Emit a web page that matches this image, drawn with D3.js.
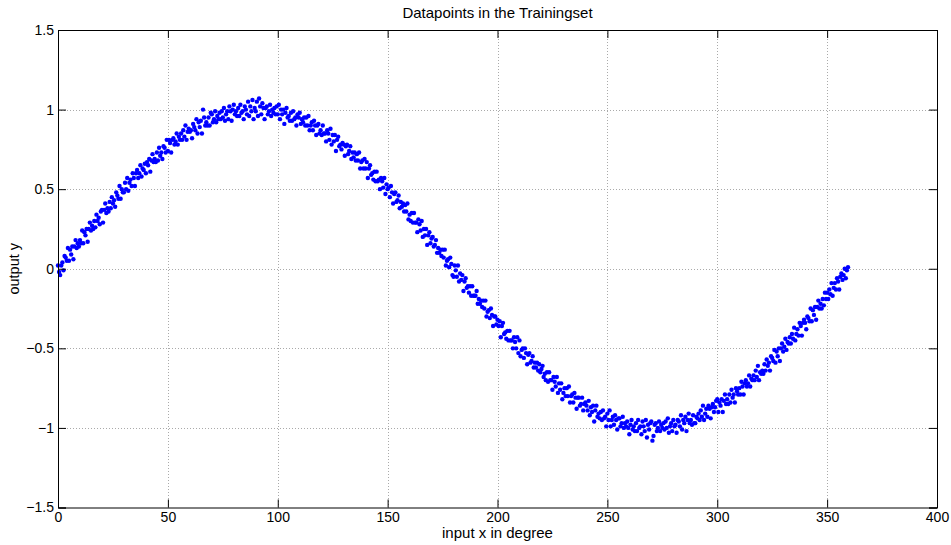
<!DOCTYPE html>
<html>
<head>
<meta charset="utf-8">
<script src="https://cdn.jsdelivr.net/npm/d3@7"></script>
<style>
  body { margin: 0; background: #fff; }
  text { font-family: "Liberation Sans", Arial, sans-serif; fill: #000; }
</style>
</head>
<body>
<div id="chart"></div>
<script>
// y values, one every half degree from 0 to 359.5
var yValues = [
  .02, -.02, -.04, .02, .04, -.01, .08, .07, .05, .13, .05, .12, .09, .14, .06, .14, .18, .13, .16, .14,
  .18, .16, .24, .16, .23, .21, .25, .17, .25, .29, .24, .27, .25, .30, .26, .34, .30, .32, .28, .36,
  .37, .29, .37, .41, .35, .38, .36, .42, .38, .45, .41, .43, .39, .48, .46, .44, .52, .44, .50, .48,
  .48, .54, .50, .57, .49, .54, .56, .52, .60, .57, .52, .60, .62, .57, .60, .65, .58, .63, .62, .66,
  .60, .67, .65, .69, .61, .68, .72, .67, .69, .67, .73, .68, .76, .71, .73, .69, .77, .76, .73, .81,
  .74, .81, .79, .73, .81, .82, .78, .80, .85, .78, .83, .81, .85, .81, .87, .83, .90, .81, .86, .88,
  .86, .87, .82, .91, .89, .87, .94, .85, .92, .89, .93, .85, 1.00, .95, .90, .92, .90, .95, .90, .98,
  .97, .92, .94, .99, .92, .96, .94, .98, .94, .99, .95, 1.01, .93, .97, .99, .94, 1.02, .99, .93, 1.00,
  1.03, .97, .99, .96, 1.01, .96, 1.03, .98, .99, .94, 1.02, 1.00, .97, 1.05, .96, 1.02, .99, 1.06, .94, 1.01,
  .99, 1.05, .96, 1.07, 1.02, .97, 1.04, 1.01, .94, 1.01, 1.02, .97, .99, 1.03, .96, 1.00, .98, 1.01, .97, 1.02,
  .97, 1.03, .94, 1.00, .97, 1.00, .91, .98, 1.01, .95, .96, .93, .98, .93, .99, .94, .95, .90, .97, .95,
  .98, .91, .94, .92, .95, .90, .95, .90, .96, .87, .90, .92, .87, .93, .90, .84, .90, .91, .85, .87,
  .84, .90, .85, .85, .80, .87, .85, .81, .88, .78, .84, .80, .84, .74, .81, .83, .77, .78, .75, .79,
  .78, .71, .77, .78, .72, .74, .77, .69, .73, .70, .73, .68, .72, .68, .73, .63, .67, .68, .63, .69,
  .63, .67, .57, .63, .65, .59, .60, .56, .61, .55, .61, .55, .56, .50, .57, .55, .51, .57, .47, .53,
  .50, .51, .45, .52, .48, .41, .47, .48, .42, .43, .46, .38, .42, .39, .41, .36, .40, .36, .41, .31,
  .34, .30, .35, .29, .35, .29, .29, .23, .31, .28, .24, .30, .20, .25, .21, .25, .15, .21, .23, .16,
  .19, .20, .14, .15, .18, .10, .13, .10, .12, .08, .12, .07, .12, .02, .05, .06, .01, .07, .03, -.04,
  -.05, .02, -.01, -.05, .02, -.08, -.03, -.07, -.04, -.14, -.08, -.06, -.12, -.11, -.15, -.11, -.17, -.11, -.17, -.17,
  -.17, -.14, -.22, -.19, -.22, -.20, -.24, -.20, -.25, -.20, -.30, -.27, -.26, -.31, -.25, -.29, -.36, -.30, -.30, -.35,
  -.32, -.36, -.33, -.43, -.36, -.34, -.41, -.40, -.44, -.39, -.45, -.39, -.45, -.45, -.50, -.43, -.46, -.50, -.43, -.53,
  -.45, -.55, -.51, -.50, -.56, -.50, -.53, -.60, -.54, -.53, -.59, -.58, -.55, -.62, -.59, -.62, -.59, -.64, -.60, -.65,
  -.63, -.61, -.68, -.66, -.70, -.65, -.71, -.65, -.70, -.70, -.76, -.68, -.71, -.74, -.68, -.78, -.72, -.76, -.72, -.82,
  -.78, -.75, -.80, -.75, -.80, -.74, -.84, -.80, -.79, -.84, -.78, -.81, -.88, -.81, -.81, -.86, -.85, -.81, -.89, -.85,
  -.84, -.86, -.89, -.83, -.92, -.87, -.90, -.86, -.96, -.89, -.86, -.93, -.91, -.94, -.90, -.95, -.89, -.94, -.93, -.99,
  -.91, -.95, -.89, -.99, -.95, -.93, -.98, -.92, -.95, -1.01, -.94, -.94, -.99, -.97, -.93, -1.00, -.97, -.99, -.96, -1.00,
  -1.04, -.98, -.95, -1.01, -.99, -1.02, -.97, -1.02, -.95, -1.00, -.99, -1.04, -.96, -.99, -1.02, -.95, -1.06, -.98, -1.01, -.97,
  -.96, -1.08, -1.05, -.98, -.97, -1.02, -1.00, -.96, -1.02, -.98, -1.00, -.97, -1.01, -.96, -1.00, -.94, -1.03, -.99, -.97, -1.02,
  -.95, -.99, -.98, -1.03, -.95, -.96, -.99, -.92, -1.01, -.95, -.97, -.93, -1.02, -.95, -.91, -.97, -.95, -.98, -.92, -.97,
  -.97, -.93, -.94, -.91, -.95, -.89, -.93, -.86, -.95, -.91, -.88, -.93, -.86, -.88, -.94, -.87, -.85, -.90, -.87, -.83,
  -.82, -.90, -.84, -.86, -.82, -.90, -.83, -.79, -.85, -.82, -.85, -.79, -.84, -.76, -.81, -.79, -.84, -.75, -.77, -.79,
  -.75, -.79, -.71, -.74, -.79, -.72, -.70, -.74, -.72, -.67, -.74, -.69, -.70, -.67, -.70, -.64, -.68, -.61, -.70, -.65,
  -.66, -.64, -.66, -.60, -.64, -.57, -.61, -.59, -.64, -.55, -.56, -.58, -.51, -.59, -.52, -.55, -.50, -.58, -.50, -.47,
  -.52, -.49, -.44, -.51, -.46, -.47, -.43, -.47, -.41, -.44, -.37, -.45, -.41, -.38, -.42, -.34, -.36, -.42, -.34, -.32,
  -.34, -.38, -.30, -.31, -.33, -.25, -.33, -.26, -.29, -.24, -.32, -.24, -.20, -.25, -.22, -.25, -.19, -.23, -.15, -.19,
  -.15, -.19, -.13, -.16, -.09, -.17, -.12, -.09, -.13, -.06, -.08, -.13, -.05, -.03, -.07, -.04, .00, -.06, -.01, .01
];
var xStep = 0.5; // degrees between samples
var xTicks = [0, 50, 100, 150, 200, 250, 300, 350, 400];
var yTicks = [-1.5, -1, -0.5, 0, 0.5, 1, 1.5];

function init(){
  var w = 951, h = 545;
  var mLeft = 58, mRight = 937, mTop = 30, mBottom = 507.5;

  var svg = d3.select("#chart").append("svg")
    .attr("width", w).attr("height", h);

  var x = d3.scaleLinear().domain([0, 400]).range([mLeft, mRight]);
  var y = d3.scaleLinear().domain([-1.5, 1.5]).range([mBottom, mTop]);

  // grid
  svg.append("g").selectAll("line")
    .data(xTicks.slice(1, -1)).enter().append("line")
    .attr("x1", function(d){ return Math.round(x(d)) + 0.5; })
    .attr("x2", function(d){ return Math.round(x(d)) + 0.5; })
    .attr("y1", mTop).attr("y2", mBottom)
    .attr("stroke", "#aaa").attr("stroke-dasharray", "1,2");
  svg.append("g").selectAll("line")
    .data(yTicks.slice(1, -1)).enter().append("line")
    .attr("y1", function(d){ return Math.round(y(d)) + 0.5; })
    .attr("y2", function(d){ return Math.round(y(d)) + 0.5; })
    .attr("x1", mLeft).attr("x2", mRight)
    .attr("stroke", "#aaa").attr("stroke-dasharray", "1,2");

  // points
  svg.append("g").selectAll("circle")
    .data(yValues).enter().append("circle")
    .attr("cx", function(d, i){ return x(i * xStep); })
    .attr("cy", function(d){ return y(d); })
    .attr("r", 2.2)
    .attr("fill", "#0000ff");

  // axes: ticks inside, on all four sides
  var fmt = function(d){ return d < 0 ? "\u2212" + Math.abs(d) : d; };
  var tl = 8;
  svg.append("g").attr("transform", "translate(0," + mBottom + ")")
    .call(d3.axisBottom(x).tickValues(xTicks).tickSize(-tl).tickPadding(5).tickFormat(fmt));
  svg.append("g").attr("transform", "translate(0," + mTop + ")")
    .call(d3.axisTop(x).tickValues(xTicks).tickSize(-tl).tickFormat(""));
  svg.append("g").attr("transform", "translate(" + mLeft + ",0)")
    .call(d3.axisLeft(y).tickValues(yTicks).tickSize(-tl).tickPadding(4).tickFormat(fmt));
  svg.append("g").attr("transform", "translate(" + mRight + ",0)")
    .call(d3.axisRight(y).tickValues(yTicks).tickSize(-tl).tickFormat(""));

  svg.selectAll(".domain").attr("stroke", "#000");
  svg.selectAll(".tick line").attr("stroke", "#000");
  svg.selectAll(".tick text").attr("font-size", 14)
    .attr("font-family", "Liberation Sans, Arial, sans-serif").attr("fill", "#000");

  // labels
  svg.append("text").attr("x", (mLeft + mRight) / 2).attr("y", 18)
    .attr("text-anchor", "middle").attr("font-size", 15).text("Datapoints in the Trainingset");
  svg.append("text").attr("x", (mLeft + mRight) / 2).attr("y", 538)
    .attr("text-anchor", "middle").attr("font-size", 15).text("input x in degree");
  svg.append("text").attr("transform", "translate(19," + y(0) + ") rotate(-90)")
    .attr("text-anchor", "middle").attr("font-size", 14.5).text("output y");
}

window.onload = init;
</script>
</body>
</html>
